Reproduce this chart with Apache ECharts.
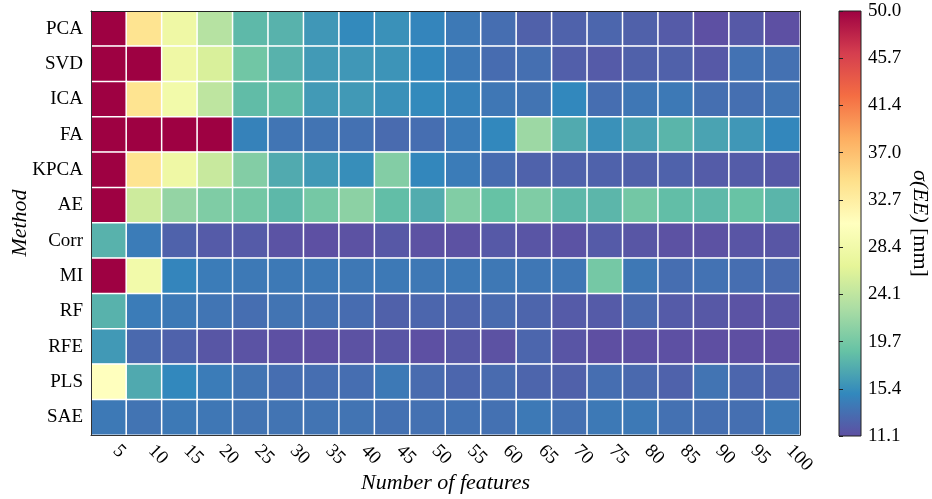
<!DOCTYPE html>
<html>
<head>
<meta charset="utf-8">
<script src="https://cdn.jsdelivr.net/npm/echarts@6/dist/echarts.min.js"></script>
<style>
html,body{margin:0;padding:0;background:#fff;}
#chart{width:932px;height:499px;}
</style>
</head>
<body>
<div id="chart"></div>
<script>
const methods = ['PCA','SVD','ICA','FA','KPCA','AE','Corr','MI','RF','RFE','PLS','SAE'];
const features = ['5','10','15','20','25','30','35','40','45','50','55','60','65','70','75','80','85','90','95','100'];

const pca  = [50, 34, 28, 23.5, 18.3, 17.8, 16.0, 15.1, 15.6, 14.8, 14.0, 13.2, 12.3, 12.4, 12.7, 12.3, 11.9, 11.2, 11.8, 11.2];
const svd  = [50, 50, 28, 25.8, 19.5, 17.8, 16.2, 16.0, 15.8, 14.9, 14.0, 13.1, 13.3, 12.2, 11.9, 12.3, 12.3, 11.8, 13.5, 13.4];
const ica  = [50, 34, 28.5, 24.0, 18.5, 18.5, 16.2, 16.1, 15.6, 15.1, 14.6, 13.8, 13.6, 15.0, 13.2, 13.8, 14.0, 13.3, 13.3, 13.7];
const fa   = [50, 50, 50, 50, 14.6, 13.7, 13.6, 13.4, 13.0, 13.2, 14.2, 15.0, 22.0, 17.3, 15.6, 16.6, 18.0, 16.8, 16.0, 14.9];
const kpca = [50, 34, 28, 24.7, 20.5, 17.3, 16.1, 15.4, 20.5, 14.9, 14.2, 13.1, 12.4, 12.4, 12.4, 12.3, 12.4, 12.0, 12.0, 11.8];
const ae   = [50, 25, 21.5, 20.3, 19.6, 18.2, 19.7, 21.0, 18.6, 17.4, 20.4, 18.9, 20.3, 18.2, 18.1, 19.6, 18.6, 18.3, 19.0, 18.0];
const corr = [17.8, 14.2, 12.4, 11.9, 11.9, 11.4, 11.2, 11.3, 11.7, 11.3, 11.3, 11.8, 11.5, 11.4, 11.9, 11.6, 11.3, 11.3, 11.5, 11.6];
const mi   = [50, 28.5, 14.8, 14.2, 14.0, 14.0, 14.0, 13.9, 14.0, 13.9, 14.0, 13.9, 13.8, 13.8, 19.7, 13.9, 13.2, 13.5, 13.2, 13.0];
const rf   = [17.8, 14.2, 14.0, 13.7, 13.2, 13.6, 13.4, 13.1, 12.3, 12.7, 12.5, 13.0, 12.6, 11.9, 11.9, 12.9, 11.9, 11.7, 11.4, 11.5];
const rfe  = [16.1, 12.9, 12.4, 11.6, 11.4, 11.2, 11.1, 11.3, 11.5, 11.2, 11.7, 11.3, 12.7, 11.5, 11.1, 11.2, 11.2, 11.1, 11.1, 11.1];
const pls  = [30.5, 17.2, 15.0, 14.2, 13.6, 13.2, 13.2, 13.2, 14.0, 13.0, 12.7, 13.0, 12.6, 12.3, 13.2, 12.9, 12.4, 13.6, 12.7, 12.4];
const sae  = [14.0, 13.6, 14.0, 13.8, 13.6, 13.6, 13.6, 13.6, 13.4, 13.4, 13.5, 13.4, 14.0, 13.4, 14.0, 14.0, 13.4, 13.3, 13.3, 14.0];

const rows = [pca, svd, ica, fa, kpca, ae, corr, mi, rf, rfe, pls, sae];
const vMin = 11.1, vMax = 50.0;
const cbTicks = ['11.1','15.4','19.7','24.1','28.4','32.7','37.0','41.4','45.7','50.0'];
const spectral = ['#5e4fa2','#3288bd','#66c2a5','#abdda4','#e6f598','#ffffbf','#fee08b','#fdae61','#f46d43','#d53e4f','#9e0142'];

const data = [];
rows.forEach((r, yi) => r.forEach((v, xi) => data.push([xi, yi, v])));

const FONT = 'Liberation Serif';
const chart = echarts.init(document.getElementById('chart'), null, {renderer: 'canvas'});

const stops = spectral.map((c, i) => ({offset: i / (spectral.length - 1), color: c}));

chart.setOption({
  animation: false,
  backgroundColor: '#fff',
  grid: [
    {left: 91, top: 11, width: 709, height: 424, containLabel: false, outerBoundsMode: 'none'},
    {left: 839, top: 11, width: 22, height: 425, containLabel: false, outerBoundsMode: 'none'}
  ],
  xAxis: [
    {
      type: 'category', data: features, gridIndex: 0, z: 10,
      axisLine: {lineStyle: {color: '#333', width: 1}},
      axisTick: {alignWithLabel: true, length: 5, lineStyle: {color: '#333'}},
      axisLabel: {rotate: -45, fontFamily: FONT, fontSize: 19, color: '#000', margin: 6, padding: [0, 0, 0, 10]},
      splitLine: {show: false},
      name: 'Number of features', nameLocation: 'middle', nameGap: 37, nameMoveOverlap: false,
      nameTextStyle: {fontFamily: FONT, fontStyle: 'italic', fontSize: 22, color: '#000'}
    },
    {
      type: 'category', data: features, gridIndex: 0, position: 'top', z: 10,
      axisLine: {lineStyle: {color: '#222', width: 1}},
      axisTick: {show: false}, axisLabel: {show: false}, splitLine: {show: false}
    },
    {type: 'value', gridIndex: 1, min: 0, max: 1, show: false}
  ],
  yAxis: [
    {
      type: 'category', data: methods, inverse: true, gridIndex: 0, z: 10,
      axisLine: {lineStyle: {color: '#333', width: 1}},
      axisTick: {alignWithLabel: true, length: 4, lineStyle: {color: '#333'}},
      axisLabel: {fontFamily: FONT, fontSize: 19, color: '#000', margin: 8},
      splitLine: {show: false},
      name: 'Method', nameLocation: 'middle', nameGap: 60, nameRotate: 90, nameMoveOverlap: false,
      nameTextStyle: {fontFamily: FONT, fontStyle: 'italic', fontSize: 22, color: '#000'}
    },
    {
      type: 'category', data: methods, inverse: true, gridIndex: 0, position: 'right', z: 10,
      axisLine: {lineStyle: {color: '#222', width: 1}},
      axisTick: {show: false}, axisLabel: {show: false}, splitLine: {show: false}
    },
    {
      type: 'value', gridIndex: 1, min: 0, max: 9, interval: 1, position: 'right', z: 10,
      axisLine: {show: false},
      axisTick: {show: true, length: 4, lineStyle: {color: '#222'}},
      axisLabel: {fontFamily: FONT, fontSize: 19, color: '#000', margin: 7,
        formatter: v => cbTicks[Math.round(v)]},
      splitLine: {show: false},
      name: '{i|σ(EE)} {n|[mm]}', nameLocation: 'middle', nameGap: 48, nameRotate: -90, nameMoveOverlap: false,
      nameTextStyle: {fontFamily: FONT, fontSize: 22, color: '#000',
        rich: {i: {fontFamily: FONT, fontStyle: 'italic', fontSize: 22, color: '#000'},
               n: {fontFamily: FONT, fontSize: 22, color: '#000'}}}
    }
  ],
  visualMap: {
    show: false, min: vMin, max: vMax, seriesIndex: 0, dimension: 2,
    inRange: {color: spectral}
  },
  series: [
    {
      type: 'heatmap', xAxisIndex: 0, yAxisIndex: 0, data: data,
      itemStyle: {borderColor: '#fff', borderWidth: 1.5},
      emphasis: {disabled: true}
    },
    {
      type: 'custom', xAxisIndex: 2, yAxisIndex: 2, data: [[0, 0]], z: 5,
      renderItem: (params, api) => {
        const p0 = api.coord([0, 0]);
        const p1 = api.coord([1, 9]);
        return {
          type: 'rect',
          shape: {x: p0[0], y: p1[1], width: p1[0] - p0[0], height: p0[1] - p1[1]},
          style: {fill: new echarts.graphic.LinearGradient(0, 1, 0, 0, stops), stroke: '#222', lineWidth: 1}
        };
      }
    }
  ]
});
</script>
</body>
</html>
